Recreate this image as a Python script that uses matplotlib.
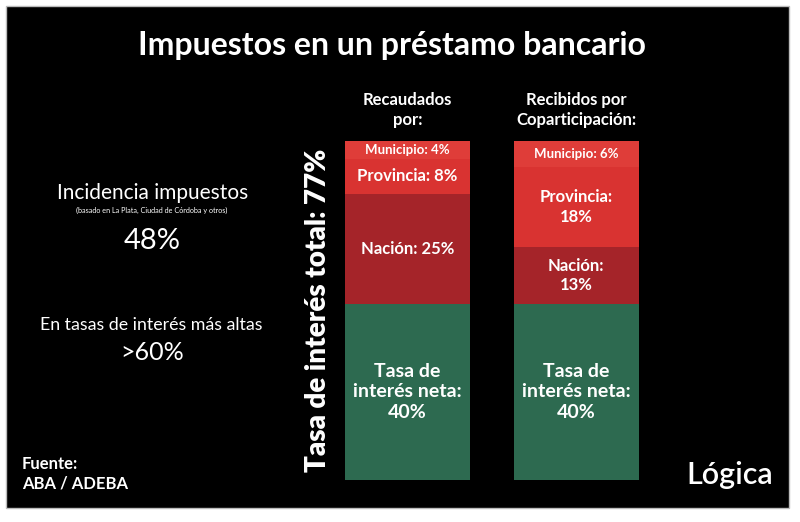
import matplotlib
matplotlib.use('Agg')
import matplotlib.pyplot as plt
from matplotlib.patches import Rectangle

# datos
columnas = ['Recaudados\npor:', 'Recibidos por\nCoparticipación:']
segmentos = ['Tasa de interés neta', 'Nación', 'Provincia', 'Municipio']
neta = [40, 40]
nacion = [25, 13]
provincia = [8, 18]
municipio = [4, 6]
etiquetas = [
    ['Tasa de\ninterés neta:\n40%', 'Nación: 25%', 'Provincia: 8%', 'Municipio: 4%'],
    ['Tasa de\ninterés neta:\n40%', 'Nación:\n13%', 'Provincia:\n18%', 'Municipio: 6%'],
]
tam_etiquetas = [
    [14, 12, 12, 9.5],
    [14, 12, 12, 9.5],
]
colores = ['#2d6a50', '#a52429', '#d93331', '#df3d39']

plt.rcParams['font.family'] = ['Lato', 'DejaVu Sans']

W, H = 800, 522
fig = plt.figure(figsize=(8, 5.22), dpi=100)
fig.patch.set_facecolor('white')

# fondo negro con borde blanco
fondo = fig.add_axes([0, 0, 1, 1])
fondo.set_xlim(0, W)
fondo.set_ylim(H, 0)
fondo.axis('off')
fondo.add_patch(Rectangle((6, 6), 783, 502, facecolor='black', edgecolor='#bbbbbb', lw=1))

# ejes de las barras (0..77 entre y=480 y y=141 px)
ax = fig.add_axes([330 / W, (H - 480) / H, 330 / W, 339 / H])
ax.set_xlim(-0.46, 1.498)
ax.set_ylim(0, 77)
ax.axis('off')
ax.patch.set_alpha(0)

x = [0, 1]
series = [neta, nacion, provincia, municipio]
base = [0, 0]
for k, vals in enumerate(series):
    ax.bar(x, vals, bottom=base, width=0.742, color=colores[k], linewidth=0)
    for i in range(2):
        ax.text(x[i], base[i] + vals[i] / 2, etiquetas[i][k], ha='center', va='center',
                color='white', fontsize=tam_etiquetas[i][k], fontweight='bold',
                linespacing=1.25)
    base = [base[i] + vals[i] for i in range(2)]

for i in range(2):
    ax.text(x[i], 77 + 7, columnas[i], ha='center', va='center', color='white',
            fontsize=12, fontweight='bold', linespacing=1.3, clip_on=False)

def px(xp, yp):
    return xp / W, 1 - yp / H

fig.text(*px(392, 46), 'Impuestos en un préstamo bancario', ha='center', va='center',
         color='white', fontsize=23, fontweight='bold')

fig.text(*px(318, 310), 'Tasa de interés total: 77%', ha='center', va='center',
         color='white', fontsize=20, fontweight='heavy', rotation=90)

fig.text(*px(153, 193), 'Incidencia impuestos', ha='center', va='center',
         color='white', fontsize=15)
fig.text(*px(152, 210), '(basado en La Plata, Ciudad de Córdoba y otros)', ha='center',
         va='center', color='white', fontsize=5.2)
fig.text(*px(152, 241), '48%', ha='center', va='center', color='white', fontsize=21)
fig.text(*px(151, 325), 'En tasas de interés más altas', ha='center', va='center',
         color='white', fontsize=12.8)
fig.text(*px(152, 353), '>60%', ha='center', va='center', color='white', fontsize=18)

fig.text(*px(22, 474), 'Fuente:\nABA / ADEBA', ha='left', va='center', color='white',
         fontsize=12, fontweight='bold', linespacing=1.3)
fig.text(*px(730, 475), 'Lógica', ha='center', va='center', color='white',
         fontsize=22, fontweight='semibold')

fig.savefig('out.png', dpi=100, facecolor=fig.get_facecolor())
